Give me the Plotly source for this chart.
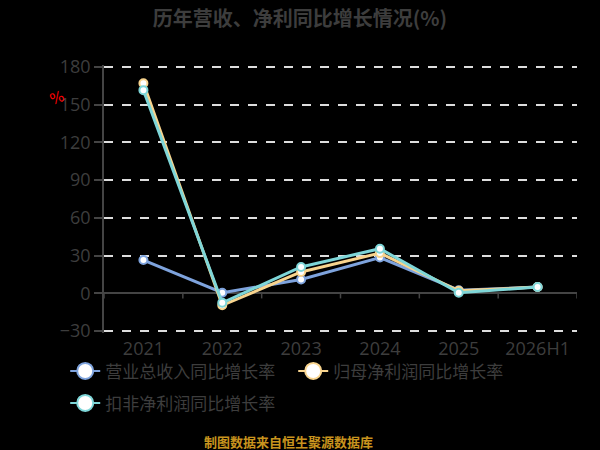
import plotly.graph_objects as go

categories = ["2021", "2022", "2023", "2024", "2025", "2026H1"]
revenue_growth = [26.5, 0.5, 11.0, 28.5, 2.5, 5.0]
parent_profit_growth = [167.0, -9.5, 17.0, 32.0, 2.0, 5.0]
deducted_profit_growth = [161.5, -7.5, 21.0, 35.5, 0.5, 5.0]
y_ticks = [-30, 0, 30, 60, 90, 120, 150, 180]

series = [
    ("营业总收入同比增长率", revenue_growth, "#7EA3DD", "legend"),
    ("归母净利润同比增长率", parent_profit_growth, "#F8D48E", "legend"),
    ("扣非净利润同比增长率", deducted_profit_growth, "#7ED6D8", "legend2"),
]

fig = go.Figure()
for name, vals, color, lg in series:
    fig.add_trace(go.Scatter(
        x=categories, y=vals, name=name, mode="lines+markers", showlegend=False,
        line=dict(color=color, width=3),
        marker=dict(size=8, color="white", line=dict(color=color, width=2)),
    ))
# legend-only entries with larger symbols
for name, vals, color, lg in series:
    fig.add_trace(go.Scatter(
        x=[None], y=[None], name=name, mode="lines+markers", legend=lg,
        line=dict(color=color, width=2),
        marker=dict(size=16, color="white", line=dict(color=color, width=2)),
    ))

# tick marks on zero line at category boundaries
for i in range(len(categories) + 1):
    fig.add_shape(type="line", xref="x", yref="y",
                  x0=i - 0.5, x1=i - 0.5, y0=0, y1=-4,
                  line=dict(color="#444444", width=1.5), layer="below")

PH = 268.0
BOT = 333.0
legend_common = dict(orientation="h", xanchor="left", yanchor="top",
                     entrywidth=183, tracegroupgap=0,
                     font=dict(family="Noto Sans CJK SC", size=17, color="#3D3D3D"),
                     itemsizing="trace", bgcolor="rgba(0,0,0,0)")

fig.update_layout(
    width=600, height=450,
    paper_bgcolor="black", plot_bgcolor="black",
    margin=dict(l=104, r=23, t=65, b=117),
    title=dict(text="<b>历年营收、净利同比增长情况(%)</b>", x=0.5, xanchor="center",
               y=0.958, yanchor="middle",
               font=dict(family="Noto Sans CJK SC", size=20, color="#3D3D3D")),
    font=dict(family="Noto Sans CJK SC", color="#444444"),
    xaxis=dict(type="category", range=[-0.5, 5.5], showgrid=False, showline=False,
               ticks="", zeroline=False, ticklabelstandoff=3,
               tickfont=dict(family="Open Sans", size=18, color="#3D3D3D")),
    yaxis=dict(range=[-31.5, 181.5], tickvals=y_ticks, showgrid=True,
               gridcolor="#DDDDDD", griddash="dash", gridwidth=1.5,
               showline=True, linecolor="#444444", linewidth=1.5,
               ticks="outside", ticklen=8, tickcolor="#444444", tickwidth=1.5,
               zeroline=True, zerolinecolor="#444444", zerolinewidth=1.5,
               tickfont=dict(family="Open Sans", size=18, color="#3D3D3D")),
    legend=dict(x=-0.082, y=(BOT - 353.4) / PH, **legend_common),
    legend2=dict(x=-0.082, y=(BOT - 385.4) / PH, **legend_common),
    showlegend=True,
)

fig.add_annotation(text="%", xref="paper", yref="paper", x=-0.1, y=(BOT - 98) / PH,
                   xanchor="center", yanchor="middle", showarrow=False, textangle=-20,
                   font=dict(color="#FF0000", size=15, family="DejaVu Sans"))
fig.add_annotation(text="<b>制图数据来自恒生聚源数据库</b>", xref="paper", yref="paper",
                   x=(288 - 104) / 473, y=(BOT - 441) / PH, xanchor="center", yanchor="middle",
                   showarrow=False,
                   font=dict(color="#C8941E", size=13, family="Noto Sans CJK SC"))

fig.write_html("out.html", config={"displayModeBar": False},
               post_script="document.body.style.margin='0px';document.body.style.background='black';")
